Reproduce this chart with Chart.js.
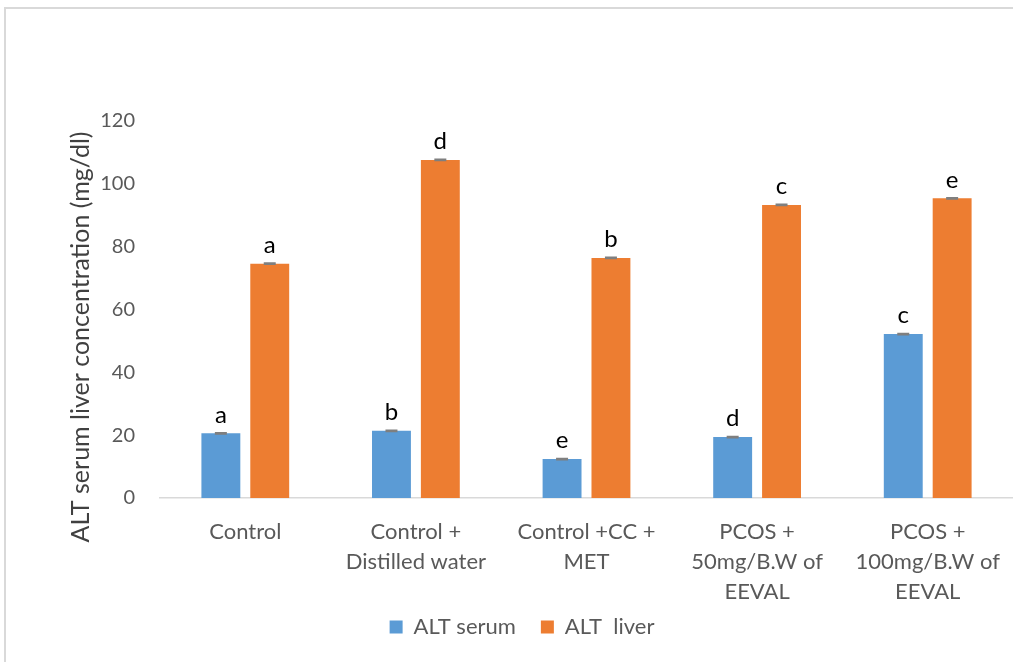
<!DOCTYPE html>
<html>
<head>
<meta charset="utf-8">
<script src="https://cdn.jsdelivr.net/npm/chart.js@4.4.1/dist/chart.umd.min.js"></script>
<style>
  html, body { margin: 0; padding: 0; background: #fff; }
  #wrap { position: absolute; left: 0; top: 0; width: 1013px; height: 662px; overflow: hidden; }
  #frame { position: absolute; left: 4px; top: 7px; width: 1020px; height: 670px;
           border-left: 2px solid #d9d9d9; border-top: 2px solid #d9d9d9; }
  canvas { position: absolute; left: 0; top: 0; }
</style>
</head>
<body>
<div id="wrap">
  <div id="frame"></div>
  <canvas id="c" width="1013" height="662"></canvas>
</div>
<script>
// Groups along the x axis (multi-line labels)
const categories = [
  ['Control'],
  ['Control +', 'Distilled water'],
  ['Control +CC +', 'MET'],
  ['PCOS +', '50mg/B.W of', 'EEVAL'],
  ['PCOS +', '100mg/B.W of', 'EEVAL']
];

// ALT concentrations (mg/dl)
const serumValues = [20.6, 21.4, 12.4, 19.4, 52.2];
const liverValues = [74.6, 107.6, 76.4, 93.3, 95.4];

// Standard errors (very small)
const serumErrors = [0.2, 0.2, 0.2, 0.2, 0.2];
const liverErrors = [0.2, 0.2, 0.2, 0.2, 0.2];

// Significance letters above each bar
const serumLetters = ['a', 'b', 'e', 'd', 'c'];
const liverLetters = ['a', 'd', 'b', 'c', 'e'];

// Y axis ticks
const yTicks = [0, 20, 40, 60, 80, 100, 120];

const FONT = 'Lato, "Open Sans", sans-serif';
const PLOT_BOTTOM = 498;     // pixel row of the zero line
const LEGEND_CENTER_Y = 627; // vertical centre of the legend row

const errorBarPlugin = {
  id: 'errorBars',
  afterDatasetsDraw(chart) {
    const ctx = chart.ctx;
    const yScale = chart.scales.y;
    chart.data.datasets.forEach((ds, di) => {
      const meta = chart.getDatasetMeta(di);
      meta.data.forEach((bar, i) => {
        const v = ds.data[i];
        const e = ds.errors[i];
        const yTop = yScale.getPixelForValue(v + e);
        const yBot = yScale.getPixelForValue(v - e);
        ctx.save();
        ctx.strokeStyle = '#7f7f7f';
        ctx.lineWidth = 1.5;
        ctx.beginPath();
        ctx.moveTo(bar.x, yTop); ctx.lineTo(bar.x, yBot);
        ctx.moveTo(bar.x - 6, yTop); ctx.lineTo(bar.x + 6, yTop);
        ctx.moveTo(bar.x - 6, yBot); ctx.lineTo(bar.x + 6, yBot);
        ctx.stroke();
        ctx.restore();
      });
    });
  }
};

const letterPlugin = {
  id: 'letters',
  afterDatasetsDraw(chart) {
    const ctx = chart.ctx;
    const yScale = chart.scales.y;
    chart.data.datasets.forEach((ds, di) => {
      const meta = chart.getDatasetMeta(di);
      meta.data.forEach((bar, i) => {
        const y = yScale.getPixelForValue(ds.data[i] + ds.errors[i]);
        ctx.save();
        ctx.fillStyle = '#000';
        ctx.font = '24px ' + FONT;
        ctx.textAlign = 'center';
        ctx.textBaseline = 'alphabetic';
        ctx.fillText(ds.letters[i], bar.x, y - 10);
        ctx.restore();
      });
    });
  }
};

const yTitlePlugin = {
  id: 'yTitle',
  afterDraw(chart) {
    const ctx = chart.ctx;
    ctx.save();
    ctx.translate(81, 337);
    ctx.rotate(-Math.PI / 2);
    ctx.fillStyle = '#404040';
    ctx.font = '25px ' + FONT;
    ctx.textAlign = 'center';
    ctx.textBaseline = 'middle';
    ctx.fillText('ALT serum liver concentration (mg/dl)', 0, 0);
    ctx.restore();
  }
};

// keeps the legend row at a fixed height below the axis labels
const legendPlacePlugin = {
  id: 'legendPlace',
  beforeDraw(chart) {
    const lg = chart.legend;
    if (!lg) return;
    const pad = lg.options.labels.padding;
    const size = lg.options.labels.font.size;
    const h = lg.bottom - lg.top;
    lg.top = LEGEND_CENTER_Y - pad - size / 2;
    lg.bottom = lg.top + h;
  }
};

new Chart(document.getElementById('c'), {
  type: 'bar',
  data: {
    labels: categories,
    datasets: [
      {
        label: 'ALT serum',
        data: serumValues,
        errors: serumErrors,
        letters: serumLetters,
        backgroundColor: '#5b9bd5',
        categoryPercentage: 0.573,
        barPercentage: 0.796
      },
      {
        label: 'ALT  liver',
        data: liverValues,
        errors: liverErrors,
        letters: liverLetters,
        backgroundColor: '#ed7d31',
        categoryPercentage: 0.573,
        barPercentage: 0.796
      }
    ]
  },
  options: {
    responsive: false,
    animation: false,
    layout: { padding: { left: 28, top: 121, right: -3, bottom: 0 } },
    plugins: {
      legend: {
        position: 'bottom',
        labels: {
          boxWidth: 13,
          boxHeight: 13,
          padding: 25,
          color: '#595959',
          font: { family: FONT, size: 22 }
        }
      },
      tooltip: { enabled: false }
    },
    scales: {
      x: {
        grid: { display: false },
        border: { display: true, color: '#d9d9d9', width: 1.5 },
        ticks: {
          color: '#595959',
          font: { family: FONT, size: 22, lineHeight: 30 / 22 },
          padding: 11,
          maxRotation: 0,
          autoSkip: false
        },
        afterFit(scale) {
          const lg = scale.chart.legend;
          const lh = lg ? lg.height : 54;
          scale.height = 662 - PLOT_BOTTOM - lh;
        }
      },
      y: {
        min: 0,
        max: 120,
        grid: { display: false, drawTicks: false },
        border: { display: false },
        afterBuildTicks(scale) { scale.ticks = yTicks.map(v => ({ value: v })); },
        ticks: {
          color: '#595959',
          font: { family: FONT, size: 20 },
          padding: 25
        },
        afterFit(scale) { scale.width = 132; }
      }
    }
  },
  plugins: [errorBarPlugin, letterPlugin, yTitlePlugin, legendPlacePlugin]
});
</script>
</body>
</html>
